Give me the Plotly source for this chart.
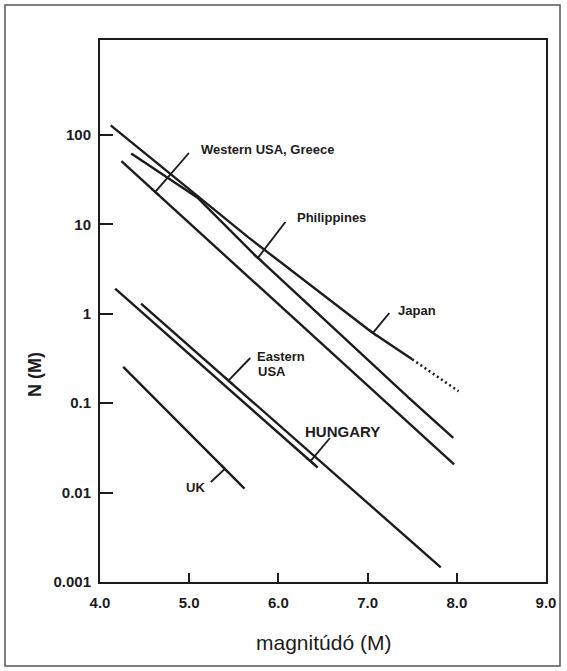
import numpy as np
import plotly.graph_objects as go

# ---------------- data ----------------
japan_m = [4.12, 5.11, 5.66, 7.04, 7.50]
japan_n = [128, 20.0, 7.2, 0.63, 0.31]
japan_ext_m = [7.50, 8.02]          # dotted extrapolation
japan_ext_n = [0.31, 0.136]

phil_m = [4.35, 5.09, 5.74, 7.49, 7.96]
phil_n = [62, 20.0, 4.5, 0.108, 0.041]

wusa_m = [4.24, 5.67, 7.97]
wusa_n = [51, 2.58, 0.0207]

eusa_m = [4.46, 7.82]
eusa_n = [1.30, 0.00146]

hun_m = [4.17, 6.44]
hun_n = [1.91, 0.0191]

uk_m = [4.26, 5.62]
uk_n = [0.255, 0.0111]

x_tickvals = [4, 5, 6, 7, 8, 9]
x_ticktext = ["4.0", "5.0", "6.0", "7.0", "8.0", "9.0"]
y_tickvals = [0.001, 0.01, 0.1, 1, 10, 100]
y_ticktext = ["0.001", "0.01", "0.1", "1", "10", "100"]

# ---------------- layout geometry ----------------
W, H = 567, 671
L, R, T, B = 100, 546, 40, 582
X_RANGE = [4, 9]
Y_RANGE = [-3, 3.063]
FONT = "Liberation Sans, Arial, Helvetica, sans-serif"
INK = "#1c1c1c"
PW, PH = R - L, B - T


def ref2paper(px, py):
    s = 0.0212 * (B - py)
    return ((px + 5 - s - L) / PW, (B - py) / PH)


def data2paper(m, logn):
    return ((m - X_RANGE[0]) / (X_RANGE[1] - X_RANGE[0]),
            (logn - Y_RANGE[0]) / (Y_RANGE[1] - Y_RANGE[0]))


fig = go.Figure()

series = [(japan_m, japan_n), (phil_m, phil_n), (wusa_m, wusa_n),
          (eusa_m, eusa_n), (hun_m, hun_n), (uk_m, uk_n)]
for xs, ys in series:
    fig.add_trace(go.Scatter(x=xs, y=ys, mode="lines",
                             line=dict(color=INK, width=2.4),
                             hoverinfo="skip", showlegend=False))
fig.add_trace(go.Scatter(x=japan_ext_m, y=japan_ext_n, mode="lines",
                         line=dict(color=INK, width=2.5, dash="2px,3px"),
                         hoverinfo="skip", showlegend=False))

shapes = []
annotations = []

# leader lines: (start in reference px, series, target magnitude)
leaders = [
    ((193, 153), (wusa_m, wusa_n), 4.62),
    ((288, 222), (phil_m, phil_n), 5.77),
    ((390, 313), (japan_m, japan_n), 7.06),
    ((250, 358), (eusa_m, eusa_n), 5.44),
    ((328, 438), (hun_m, hun_n), 6.36),
    ((208, 482), (uk_m, uk_n), 5.40),
]
for (sx, sy), (xs, ys), tm in leaders:
    p0 = ref2paper(sx, sy)
    tl = float(np.interp(tm, xs, np.log10(ys)))
    p1 = data2paper(tm, tl)
    shapes.append(dict(type="line", xref="paper", yref="paper",
                       x0=p0[0], y0=p0[1], x1=p1[0], y1=p1[1],
                       line=dict(color=INK, width=1.9)))
    # small perpendicular bar at the end
    dx = (p1[0] - p0[0]) * PW
    dy = (p1[1] - p0[1]) * PH
    n = np.hypot(dx, dy)
    ux, uy = -dy / n * 5, dx / n * 5
    shapes.append(dict(type="line", xref="paper", yref="paper",
                       x0=p1[0] - ux / PW, y0=p1[1] - uy / PH,
                       x1=p1[0] + ux / PW, y1=p1[1] + uy / PH,
                       line=dict(color=INK, width=1.9)))

labels = [
    ("Western USA, Greece", 203, 149, 13),
    ("Philippines", 298, 217.5, 13),
    ("Japan", 397, 310, 13),
    ("Eastern", 255, 356, 13),
    ("USA", 255, 371, 13),
    ("HUNGARY", 301, 431, 15),
    ("UK", 181, 487.5, 13),
]
for txt, px, py, fs in labels:
    xp, yp = ref2paper(px, py)
    annotations.append(dict(text="<b>%s</b>" % txt, x=xp, y=yp,
                            xref="paper", yref="paper", xanchor="left",
                            yanchor="middle", showarrow=False,
                            font=dict(family=FONT, size=fs, color=INK)))

# axis titles
annotations.append(dict(text="magnitúdó (M)", x=0.5, y=(B - 642) / PH,
                        xref="paper", yref="paper", xanchor="center",
                        yanchor="middle", showarrow=False,
                        font=dict(family=FONT, size=21, color=INK)))
annotations.append(dict(text="<b>N (M)</b>", x=(35 - L) / PW,
                        y=(B - 375) / PH, xref="paper", yref="paper",
                        xanchor="center", yanchor="middle", textangle=-90,
                        showarrow=False,
                        font=dict(family=FONT, size=18, color=INK)))

# outer frame of the figure
shapes.append(dict(type="rect", xref="paper", yref="paper",
                   x0=(5 - L) / PW, x1=(560 - L) / PW,
                   y0=(B - 666) / PH, y1=(B - 5) / PH,
                   line=dict(color="#555", width=1.5)))

fig.update_xaxes(range=X_RANGE, tickvals=x_tickvals, ticktext=x_ticktext,
                 ticks="inside", ticklen=9, tickwidth=1.8, tickcolor=INK,
                 showline=True, linewidth=2, linecolor=INK, mirror=True,
                 showgrid=False, zeroline=False, ticklabelstandoff=6,
                 tickfont=dict(family=FONT, size=15, color=INK, weight="bold"))
fig.update_yaxes(type="log", range=Y_RANGE, tickvals=y_tickvals,
                 ticktext=y_ticktext, ticks="inside", ticklen=13,
                 tickwidth=1.8, tickcolor=INK, showline=True, linewidth=2,
                 linecolor=INK, mirror=True, showgrid=False, zeroline=False,
                 ticklabelstandoff=4,
                 tickfont=dict(family=FONT, size=15, color=INK, weight="bold"))

fig.update_layout(width=W, height=H,
                  margin=dict(l=L, r=W - R, t=T, b=H - B),
                  paper_bgcolor="white", plot_bgcolor="white",
                  shapes=shapes, annotations=annotations,
                  showlegend=False)

fig.write_html("out.html",
               config={"displayModeBar": False},
               post_script="document.body.style.margin='0';"
                           "document.body.style.overflow='hidden';")
